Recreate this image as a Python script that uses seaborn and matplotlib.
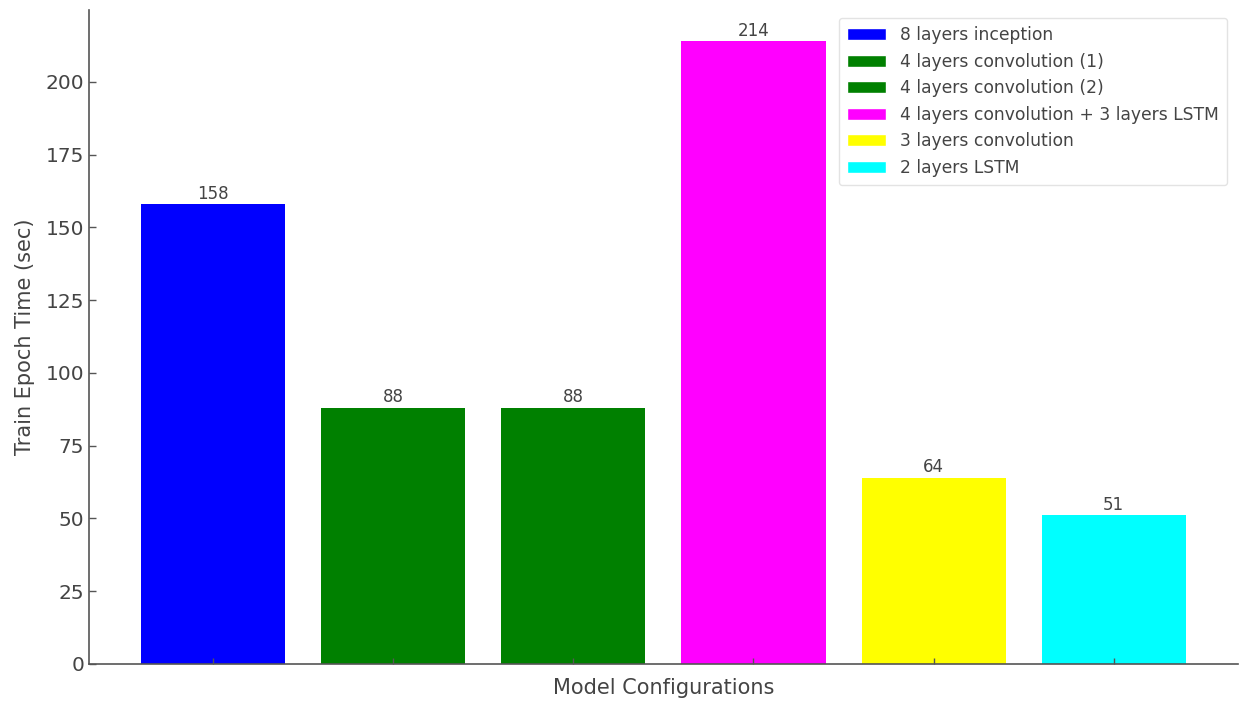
import matplotlib
matplotlib.use('Agg')
import matplotlib.pyplot as plt
from matplotlib.patches import Patch
import seaborn as sns
import pandas as pd

models = ['8 layers inception', '4 layers convolution (1)', '4 layers convolution (2)',
          '4 layers convolution + 3 layers LSTM', '3 layers convolution', '2 layers LSTM']
epoch_time = [158, 88, 88, 214, 64, 51]
colors = ['blue', 'green', 'green', 'magenta', 'yellow', 'cyan']

df = pd.DataFrame({'Model': models, 'Time': epoch_time})

sns.set_style('white')
plt.rcParams['font.family'] = ['DejaVu Sans']
txt = '#444444'

fig = plt.figure(figsize=(12.39, 7.04), dpi=100)
ax = fig.add_axes([0.072, 0.057, 0.927, 0.929])
sns.barplot(data=df, x='Model', y='Time', hue='Model', palette=colors,
            saturation=1, width=0.8, linewidth=0, dodge=False, legend=False, ax=ax)

for c in ax.containers:
    ax.bar_label(c, fontsize=12, color=txt, padding=1)

ax.set_xlim(-0.69, 5.69)
ax.set_ylim(0, 224.7)
ax.set_xticklabels([])
ax.set_xlabel('Model Configurations', fontsize=15, color=txt, labelpad=7)
ax.set_ylabel('Train Epoch Time (sec)', fontsize=15, color=txt, labelpad=8)
ax.tick_params(axis='both', direction='in', length=5, width=1, color='#555555',
               labelsize=14.5, labelcolor=txt, bottom=True, left=True)
ax.tick_params(axis='x', length=4)
ax.set_axisbelow(False)
sns.despine(ax=ax)
for s in ['left', 'bottom']:
    ax.spines[s].set_color('#555555')
    ax.spines[s].set_linewidth(1.2)

handles = [Patch(facecolor=c, label=m) for m, c in zip(models, colors)]
leg = ax.legend(handles=handles, loc='upper right', fontsize=12.3, frameon=True,
                labelcolor=txt, handlelength=2.3, borderpad=0.5, borderaxespad=0,
                bbox_to_anchor=(0.991, 0.988))
leg.get_frame().set_edgecolor('#dddddd')

fig.savefig('out.png', dpi=100)
